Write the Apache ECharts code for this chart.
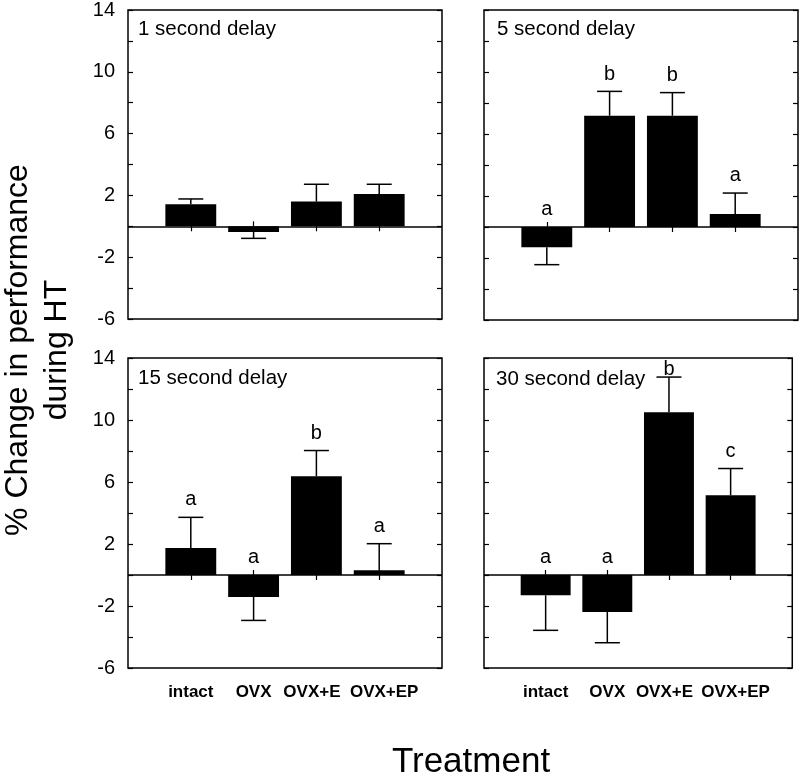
<!DOCTYPE html>
<html>
<head>
<meta charset="utf-8">
<script src="https://cdn.jsdelivr.net/npm/echarts@6/dist/echarts.min.js"></script>
<style>
html,body{margin:0;padding:0;background:#fff;}
#chart{width:800px;height:776px;}
</style>
</head>
<body>
<div id="chart"></div>
<script>
// ---- data ----
const treatments = ['intact', 'OVX', 'OVX+E', 'OVX+EP'];
const yTickLabels = [-6, -2, 2, 6, 10, 14];
const panelTitles = ['1 second delay', '5 second delay', '15 second delay', '30 second delay'];

const means1s = [1.42, -0.37, 1.60, 2.09];
const errs1s = [0.35, 0.41, 1.12, 0.63];
const letters1s = ['', '', '', ''];

const means5s = [-1.31, 7.18, 7.18, 0.84];
const errs5s = [1.12, 1.57, 1.49, 1.35];
const letters5s = ['a', 'b', 'b', 'a'];

const means15s = [1.75, -1.42, 6.37, 0.30];
const errs15s = [1.97, 1.51, 1.66, 1.72];
const letters15s = ['a', 'a', 'b', 'a'];

const means30s = [-1.31, -2.39, 10.50, 5.15];
const errs30s = [2.26, 1.98, 2.27, 1.72];
const letters30s = ['a', 'a', 'b', 'c'];

const yTitle = '% Change in performance\nduring HT';
const xTitle = 'Treatment';

// ---- layout / style ----
const FONT = '"Liberation Sans", Arial, Helvetica, sans-serif';
const xCategories = [' '].concat(treatments, ['  ']);
const labelPad = {'OVX+E': [0, 9, 0, 0], 'OVX+EP': [0, 0, 0, 10]};
const panels = [
  {means: means1s, errs: errs1s, letters: letters1s, left: 128, top: 10, height: 309, yLabels: true, xLabels: false, tx: 138, ty: 29},
  {means: means5s, errs: errs5s, letters: letters5s, left: 484, top: 10, height: 310, yLabels: false, xLabels: false, tx: 497, ty: 29},
  {means: means15s, errs: errs15s, letters: letters15s, left: 128, top: 358, height: 310, yLabels: true, xLabels: true, tx: 138, ty: 378},
  {means: means30s, errs: errs30s, letters: letters30s, left: 484, top: 358, height: 310, yLabels: false, xLabels: true, tx: 496, ty: 379}
];

const grid = [], xAxis = [], yAxis = [], series = [], graphic = [];
const tickFilter = (idx, val) => String(val).trim() !== '';
const xLabelStyle = {color: '#000', fontFamily: FONT, fontSize: 17, fontWeight: 'bold'};

panels.forEach((p, k) => {
  grid.push({left: p.left, top: p.top, width: 314, height: p.height, show: true,
    borderColor: '#000', borderWidth: 1.5, backgroundColor: 'transparent', containLabel: false});
  xAxis.push({type: 'category', gridIndex: k, data: xCategories, boundaryGap: false, position: 'bottom',
    axisLine: {show: false},
    axisTick: {show: true, inside: true, length: 5, interval: tickFilter, lineStyle: {color: '#000', width: 1.2}},
    axisLabel: Object.assign({show: p.xLabels, interval: 0, margin: 16,
      formatter: v => labelPad[v] ? '{' + (v === 'OVX+E' ? 'l' : 'r') + '|' + v + '}' : v,
      rich: {
        l: Object.assign({padding: labelPad['OVX+E']}, xLabelStyle),
        r: Object.assign({padding: labelPad['OVX+EP']}, xLabelStyle)
      }}, xLabelStyle),
    splitLine: {show: false}});
  xAxis.push({type: 'category', gridIndex: k, data: xCategories, boundaryGap: false, position: 'top',
    axisLine: {show: false},
    axisTick: {show: true, inside: true, length: 5, interval: tickFilter, lineStyle: {color: '#000', width: 1.2}},
    axisLabel: {show: false}, splitLine: {show: false}});
  yAxis.push({type: 'value', gridIndex: k, min: -6, max: 14, interval: 2, position: 'left',
    axisLine: {show: false},
    axisTick: {show: true, inside: true, length: 5, lineStyle: {color: '#000', width: 1.2}},
    axisLabel: {show: p.yLabels, margin: 13, color: '#000', fontFamily: FONT, fontSize: 20,
      formatter: v => yTickLabels.indexOf(v) >= 0 ? String(v) : ''},
    splitLine: {show: false}});
  yAxis.push({type: 'value', gridIndex: k, min: -6, max: 14, interval: 2, position: 'right',
    axisLine: {show: false},
    axisTick: {show: true, inside: true, length: 5, lineStyle: {color: '#000', width: 1.2}},
    axisLabel: {show: false}, splitLine: {show: false}});

  const xi = 2 * k, yi = 2 * k;
  series.push({
    type: 'bar', xAxisIndex: xi, yAxisIndex: yi, barWidth: '81%',
    itemStyle: {color: '#000'}, silent: true,
    data: treatments.map((t, i) => [t, p.means[i]]),
    markLine: {symbol: 'none', silent: true, label: {show: false},
      lineStyle: {color: '#000', width: 1.5, type: 'solid'}, data: [{yAxis: 0}]}
  });
  series.push({
    type: 'custom', xAxisIndex: xi, yAxisIndex: yi, silent: true,
    encode: {x: 0, y: 1},
    data: treatments.map((t, i) => [t, p.means[i], p.errs[i]]),
    renderItem: function (params, api) {
      const x = api.value(0), m = api.value(1), e = api.value(2);
      const end = m >= 0 ? m + e : m - e;
      const p0 = api.coord([x, m]), p1 = api.coord([x, end]);
      const hw = 12.5;
      const st = {stroke: '#000', lineWidth: 1.5};
      return {type: 'group', children: [
        {type: 'line', shape: {x1: p0[0], y1: p0[1], x2: p1[0], y2: p1[1]}, style: st},
        {type: 'line', shape: {x1: p1[0] - hw, y1: p1[1], x2: p1[0] + hw, y2: p1[1]}, style: st}
      ]};
    }
  });
  series.push({
    type: 'custom', xAxisIndex: xi, yAxisIndex: yi, silent: true,
    encode: {x: 0, y: 1},
    data: treatments.map((t, i) => [t, p.means[i], p.errs[i]]),
    renderItem: function (params, api) {
      const letter = p.letters[params.dataIndex];
      if (!letter) return null;
      const x = api.value(0), m = api.value(1), e = api.value(2);
      const top = m >= 0 ? m + e : 0;
      const pos = api.coord([x, Math.min(top + 1.12, 13.25)]);
      return {type: 'text', x: pos[0], y: pos[1],
        style: {text: letter, fill: '#000', font: '20px ' + FONT, align: 'center', verticalAlign: 'middle'}};
    }
  });
  graphic.push({type: 'text', x: p.tx, y: p.ty,
    style: {text: panelTitles[k], fill: '#000', font: '20.5px ' + FONT, align: 'left', verticalAlign: 'middle'}});
});

graphic.push({type: 'text', x: 38, y: 350, rotation: Math.PI / 2,
  style: {text: yTitle, fill: '#000', font: '32px ' + FONT, align: 'center', verticalAlign: 'middle', lineHeight: 39}});
graphic.push({type: 'text', x: 471, y: 762,
  style: {text: xTitle, fill: '#000', font: '35px ' + FONT, align: 'center', verticalAlign: 'middle'}});

const chart = echarts.init(document.getElementById('chart'), null, {renderer: 'canvas'});
chart.setOption({
  animation: false,
  backgroundColor: '#fff',
  grid: grid, xAxis: xAxis, yAxis: yAxis, series: series, graphic: graphic
});
</script>
</body>
</html>
